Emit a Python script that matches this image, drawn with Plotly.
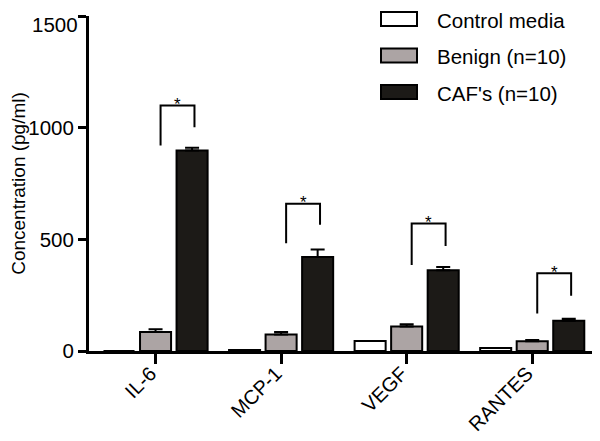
import plotly.graph_objects as go

categories = ["IL-6", "MCP-1", "VEGF", "RANTES"]
series_names = ["Control media", "Benign (n=10)", "CAF's (n=10)"]
series_colors = ["white", "#aca4a4", "#1c1a17"]
y_ticks = [0, 500, 1000, 1500]
y_tick_labels = ["0", "500", "1000", "1500"]
control = [0, 5, 45, 13]
benign = [85, 74, 110, 44]
benign_err = [12, 11, 10, 5]
caf = [898, 421, 362, 135]
caf_err = [12, 33, 14, 9]

# significance brackets (benign vs CAF)
sig_top = [1099, 659, 571, 348]
sig_left_low = [920, 482, 385, 168]
sig_right_low = [1002, 565, 470, 247]

x = list(range(len(categories)))
FONT = "Arial, Liberation Sans, sans-serif"
W, H = 600, 441
PAGE_OFF = 8  # page body margin offset
# plot area in screen pixels
SX0, SX1, SY0, SY1 = 89, 595, 16, 351
ML = SX0 - PAGE_OFF
MT = SY0 - PAGE_OFF
MR = W - (SX1 - PAGE_OFF)
MB = H - (SY1 - PAGE_OFF)
PW, PH = SX1 - SX0, SY1 - SY0


def px_x(p):
    return (p - SX0) / PW


def px_y(p):
    return (SY1 - p) / PH


fig = go.Figure()
fig.add_trace(go.Bar(
    x=x, y=control, name=series_names[0], showlegend=False,
    marker=dict(color=series_colors[0], line=dict(color="black", width=2)),
))
fig.add_trace(go.Bar(
    x=x, y=benign, name=series_names[1], showlegend=False,
    marker=dict(color=series_colors[1], line=dict(color="black", width=2)),
    error_y=dict(type="data", array=benign_err, arrayminus=[0] * 4, symmetric=False,
                 color="black", thickness=2, width=7),
))
fig.add_trace(go.Bar(
    x=x, y=caf, name=series_names[2], showlegend=False,
    marker=dict(color=series_colors[2], line=dict(color="black", width=2)),
    error_y=dict(type="data", array=caf_err, arrayminus=[0] * 4, symmetric=False,
                 color="black", thickness=2, width=7),
))

L_OFF, R_OFF = 0.04, 0.31
for i in x:
    fig.add_trace(go.Scatter(
        x=[i + L_OFF, i + L_OFF, i + R_OFF, i + R_OFF],
        y=[sig_left_low[i], sig_top[i], sig_top[i], sig_right_low[i]],
        mode="lines", line=dict(color="black", width=2),
        showlegend=False, hoverinfo="skip",
    ))
    fig.add_annotation(
        x=i + (L_OFF + R_OFF) / 2, y=sig_top[i], text="*", showarrow=False,
        font=dict(family=FONT, size=17, color="black"), yanchor="middle", yshift=1,
    )

# legend (drawn as swatches + text)
row_y = [19, 55.5, 92]
for name, col, ry in zip(series_names, series_colors, row_y):
    fig.add_shape(type="rect", xref="paper", yref="paper",
                  x0=px_x(381), x1=px_x(417), y0=px_y(ry + 7), y1=px_y(ry - 7),
                  fillcolor=col, line=dict(color="black", width=2))
    fig.add_annotation(xref="paper", yref="paper", x=px_x(436), y=px_y(ry + 1),
                       xanchor="left", yanchor="middle", text=name, showarrow=False,
                       borderpad=0,
                       font=dict(family=FONT, size=20.5, color="black"))

# top y tick label sits just below its tick (kept inside the figure)
fig.add_annotation(xref="paper", yref="y", x=0, y=y_ticks[-1], xanchor="right",
                   yanchor="top", xshift=-10, yshift=4, borderpad=0, showarrow=False,
                   text=y_tick_labels[-1], font=dict(family=FONT, size=20.5, color="black"))

fig.update_layout(
    width=W, height=H,
    margin=dict(l=ML, r=MR, t=MT, b=MB, autoexpand=False),
    plot_bgcolor="white", paper_bgcolor="white",
    barmode="group", bargap=0.127, bargroupgap=0.15,
    font=dict(family=FONT, size=20, color="black"),
    showlegend=False,
)
fig.update_xaxes(
    range=[-0.53, 3.5], tickvals=x, ticktext=categories, tickangle=-45,
    showline=True, linecolor="black", linewidth=3,
    ticks="outside", ticklen=10, tickwidth=3, tickcolor="black",
    showgrid=False, zeroline=False, automargin=False,
    tickfont=dict(family=FONT, size=20, color="black"),
)
try:
    fig.update_xaxes(ticklabelstandoff=-10, ticklabelshift=-5)
except Exception:
    pass
fig.update_yaxes(
    range=[0, 1500], tickvals=y_ticks, ticktext=y_tick_labels[:-1] + [""],
    showline=True, linecolor="black", linewidth=3,
    ticks="outside", ticklen=8, tickwidth=3, tickcolor="black",
    showgrid=False, zeroline=False, automargin=False,
    tickfont=dict(family=FONT, size=20.5, color="black"),
    title=dict(text="Concentration (pg/ml)", font=dict(family=FONT, size=19, color="black"), standoff=12),
)

fig.write_html("out.html")
